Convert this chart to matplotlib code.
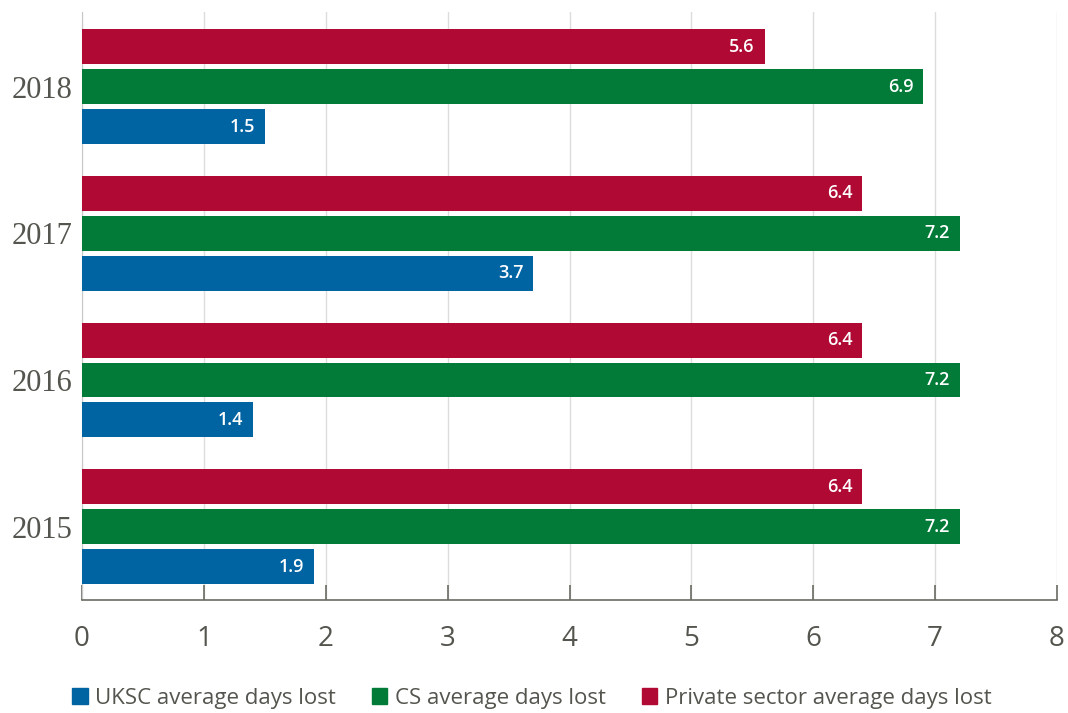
import numpy as np
import matplotlib
matplotlib.use("Agg")
from matplotlib import pyplot as plt
from matplotlib.patches import Patch

# Average working days lost per employee, by year
years = ["2015", "2016", "2017", "2018"]
uksc_days = [1.9, 1.4, 3.7, 1.5]
cs_days = [7.2, 7.2, 7.2, 6.9]
private_days = [6.4, 6.4, 6.4, 5.6]

series_names = ["UKSC average days lost", "CS average days lost",
                "Private sector average days lost"]
x_ticks = [0, 1, 2, 3, 4, 5, 6, 7, 8]

blue = "#0063a2"
green = "#017b37"
red = "#b00a34"
text_grey = "#55554f"

fig = plt.figure(figsize=(10.68, 7.13), dpi=100)
ax = fig.add_axes([0.0768, 0.1585, 0.9129, 0.8245])

pos = np.arange(len(years))
h = 0.238
off = 0.272

def draw_series(values, shift, colour):
    bars = ax.barh(pos + shift, values, height=h, color=colour, zorder=3)
    for b, v in zip(bars, values):
        ax.text(b.get_width() - 0.08, b.get_y() + b.get_height() / 2, f"{v:.1f}",
                ha="right", va="center", color="white", fontsize=13,
                fontweight="semibold", family="Open Sans", zorder=4)
    return bars

draw_series(uksc_days, -off, blue)
draw_series(cs_days, 0, green)
draw_series(private_days, off, red)

ax.set_xlim(0, 8)
ax.set_ylim(-0.5, 3.508)
ax.set_xticks(x_ticks)
ax.set_xticklabels([str(t) for t in x_ticks], family="Open Sans", fontsize=20,
                   color=text_grey)
ax.set_yticks(pos)
ax.set_yticklabels(years, family="Liberation Serif", fontsize=22, color=text_grey)

ax.tick_params(axis="x", direction="in", length=11, width=1.2, color="#6b6b63",
               pad=18)
ax.tick_params(axis="y", length=0, pad=7)
ax.grid(axis="x", color="#dcdcdc", linewidth=1, zorder=0)

for side in ["top", "right"]:
    ax.spines[side].set_visible(False)
ax.spines["left"].set_color("#c8c8c8")
ax.spines["bottom"].set_color("#6b6b63")
ax.spines["bottom"].set_linewidth(1.2)

handles = [Patch(color=c) for c in [blue, green, red]]
fig.legend(handles, series_names, loc="lower center", bbox_to_anchor=(0.498, -0.022),
           ncol=3, frameon=False, handlelength=0.7, handleheight=0.7,
           handletextpad=0.35, columnspacing=1.6,
           prop={"family": "Open Sans", "size": 16}, labelcolor=text_grey)

fig.savefig("out.png", dpi=100)
